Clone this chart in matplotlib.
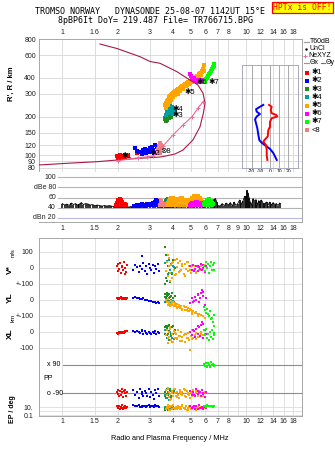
import matplotlib
matplotlib.use('Agg')
import matplotlib.pyplot as plt
import numpy as np
from matplotlib.ticker import NullLocator

plt.rcParams['font.family'] = ['Liberation Sans', 'DejaVu Sans']
plt.rcParams['font.size'] = 5
plt.rcParams['axes.linewidth'] = 0.7

# ---------------- data ----------------
top_ticks = [1, 1.5, 2, 3, 4, 5, 6, 7, 8, 10, 12, 14, 16, 18]
top_labels = ['1', '1.6', '2', '3', '4', '5', '6', '7', '8', '10', '12', '14', '16', '18']
low_ticks = [1, 1.5, 2, 3, 4, 5, 6, 7, 8, 9, 10, 12, 14, 16, 18]
low_top_labels = ['1', '1.5', '2', '3', '4', '5', '6', '7', '8', '9', '10', '12', '14', '16', '18']
low_bot_labels = ['1', '1.5', '2', '3', '4', '5', '6', '7', '8', '', '10', '12', '14', '16', '18']
h_ticks = [80, 90, 100, 120, 150, 200, 300, 400, 600, 800]

# true height profile (MHz, km)
prof_f = [0.747, 1.06, 1.544, 1.983, 2.645, 3.40, 3.62, 4.10, 4.53, 5.13, 5.60, 5.85, 5.97,
          5.82, 5.46, 4.94, 4.20, 3.40, 3.00, 2.645, 1.983, 1.603]
prof_h = [84.1, 86.7, 89.2, 91.9, 94.8, 97.0, 98.5, 102.4, 109.9, 131.5, 165.9, 213, 254.7,
          304.6, 351.5, 384.3, 445.9, 518, 535, 583, 675, 731]
# NeXYZ
ne_f = [2.008, 2.579, 2.886, 3.111, 3.313, 3.527, 3.997, 4.529, 5.07, 5.46, 5.82]
ne_h = [90.8, 95.8, 97.5, 98.8, 106.1, 118.1, 143.8, 171.9, 199.4, 231.7, 260.7]

# echoes R' vs f, by group
e1_f = [1.98, 2.0, 2.02, 2.05, 2.07, 2.1, 2.12, 2.15, 2.18, 2.2, 2.23, 2.26, 2.55]
e1_h = [98, 96, 99, 97, 100, 98, 96, 99, 101, 97, 100, 98, 104]
e2_f = [2.48, 2.55, 2.61, 2.68, 2.74, 2.85, 2.92, 2.99, 3.07, 3.11, 3.19, 3.27, 3.31, 2.96, 2.81, 2.70, 3.02, 3.15]
e2_h = [114, 108, 106, 106, 110, 104, 110, 114, 117, 110, 120, 116, 112, 106, 112, 103, 108, 104]
e3_f = [3.60, 3.63, 3.66, 3.70, 3.73, 3.76, 3.80, 3.84, 3.88, 3.64, 3.72]
e3_h = [190, 194, 188, 196, 192, 199, 195, 202, 198, 185, 187]
e4_f = [3.68, 3.72, 3.76, 3.80, 3.85, 3.90, 3.95, 4.00, 4.06, 3.74, 3.84, 3.94, 4.04, 4.10, 3.70, 3.82]
e4_h = [205, 214, 222, 230, 238, 226, 216, 208, 228, 240, 246, 236, 220, 214, 228, 212]
e5_f = [3.62, 3.66, 3.70, 3.74, 3.78, 3.82, 3.86, 3.90, 3.95, 4.00, 4.05, 4.10, 4.16, 4.22, 4.28, 4.35,
        4.42, 4.50, 4.58, 4.66, 4.75, 4.84, 4.93, 5.02, 5.12, 5.22, 5.32, 5.42, 5.52, 5.62, 5.72, 5.82,
        5.92, 3.68, 3.76, 3.84, 3.92, 4.02, 4.12, 4.24, 4.38, 4.55, 4.72, 4.90, 5.08, 5.28, 5.48, 5.68, 5.88,
        3.72, 3.80, 3.88, 3.96, 4.06, 4.16, 4.28, 4.40, 4.52, 4.64, 4.78, 4.92, 5.06, 5.20, 5.36, 5.52,
        5.66, 5.78]
e5_h = [245, 255, 262, 268, 275, 282, 288, 293, 298, 304, 308, 313, 318, 323, 328, 333,
        338, 344, 350, 356, 362, 368, 375, 380, 385, 392, 402, 413, 425, 436, 452, 472,
        505, 235, 248, 258, 270, 282, 292, 300, 315, 330, 345, 358, 368, 380, 395, 420, 450,
        250, 262, 275, 285, 295, 305, 315, 325, 335, 345, 352, 362, 372, 380, 392, 410,
        428, 445]
e6_f = [4.95, 5.00, 5.08, 5.15, 5.25, 5.35, 5.45, 5.55, 5.65, 5.75, 5.85, 5.95, 5.20, 5.50, 5.80]
e6_h = [425, 412, 398, 390, 385, 380, 378, 382, 376, 372, 370, 368, 395, 370, 385]
e7_f = [5.95, 6.0, 6.05, 6.12, 6.2, 6.28, 6.36, 6.44, 6.52, 6.6, 6.66, 6.7]
e7_h = [372, 380, 390, 400, 412, 425, 438, 452, 466, 482, 498, 512]
e8_f = [3.32, 3.35, 3.38, 3.42, 3.45, 3.36, 3.40]
e8_h = [112, 118, 124, 120, 114, 108, 104]

# tilt inset (deg vs km)
tiltx = [-1.1, 1.8, 0.8, 1.8, 6.5, 7.9, 1.8, 0.0, 0.0, -1.8, -2.5, -6.2, -7.3, -4.3, -3.6, -3.6, -2.9]
tiltx_h = [246, 238, 225, 212, 206, 200, 194, 182, 167, 157, 140, 131, 127, 120, 110, 100, 92]
tilty = [-7.3, -10.9, -15.2, -14.5, -10.9, -14.5, -16.3, -15.2, -13.8, -12.7, -11.6, -9.0, -4.3, 0.0, 3.6, 7.3]
tilty_h = [246, 238, 228, 218, 209, 200, 190, 177, 162, 144, 131, 125, 118, 112, 104, 92]
tilt_ticks = [-20, -10, 0, 10, 20]

# amplitude panel
noise_f = [1.0, 1.03, 1.06, 1.09, 1.12, 1.15, 1.18, 1.21, 1.24, 1.27, 1.30, 1.34, 1.38, 1.42, 1.46, 1.50,
           1.55, 1.60, 1.65, 1.70, 1.75, 1.80, 1.85, 1.90, 1.95,
           2.00, 2.05, 2.10, 2.15, 2.20, 2.25, 2.30, 2.35, 2.40, 2.45, 2.50,
           2.6, 2.7, 2.8, 2.9, 3.0, 3.1, 3.2, 3.3, 3.4, 3.5, 3.6, 3.7, 3.8, 3.9, 4.0,
           4.2, 4.4, 4.6, 4.8, 5.0, 5.2, 5.4, 5.6, 5.8, 6.0, 6.2, 6.4, 6.6,
           6.7, 6.8, 6.9, 7.0, 7.2, 7.4, 7.6, 7.8, 8.0, 8.2, 8.4, 8.6, 8.8, 9.0, 9.2, 9.4, 9.6, 9.8,
           10.0, 10.1, 10.2, 10.35, 10.5, 10.7, 10.9, 11.1, 11.3, 11.5, 11.7, 11.9, 12.1, 12.3, 12.5,
           12.7, 12.9, 13.1, 13.4, 13.7, 14.0, 14.3, 14.6, 14.9, 15.2]
noise_db = [48, 45, 47, 44, 49, 46, 48, 45, 47, 50, 46, 48, 47, 45, 46, 44,
            45, 44, 43, 44, 43, 44, 43, 42, 43,
            42, 42, 43, 42, 42, 42, 41, 42, 42, 43, 44,
            42, 42, 43, 42, 42, 43, 42, 42, 42, 41, 42, 41, 41, 42, 41,
            41, 41, 41, 42, 41, 41, 42, 42, 41, 42, 42, 44, 55,
            56, 58, 52, 44, 43, 48, 44, 49, 45, 50, 43, 51, 44, 48, 55, 47, 53, 62,
            62, 74, 69, 60, 51, 45, 58, 52, 56, 45, 54, 47, 55, 50, 43,
            49, 51, 44, 51, 45, 50, 46, 48, 44, 49]
a1_f = [1.95, 1.98, 2.0, 2.02, 2.05, 2.08, 2.1, 2.12, 2.15, 2.18, 2.2, 2.23]
a1_db = [46, 50, 54, 56, 57, 55, 52, 50, 48, 46, 47, 45]
a2_f = [2.45, 2.5, 2.55, 2.6, 2.65, 2.7, 2.75, 2.8, 2.85, 2.9, 2.95, 3.0, 3.05, 3.1, 3.15, 3.2, 3.25, 3.28]
a2_db = [43, 44, 45, 44, 46, 47, 45, 44, 46, 47, 46, 48, 47, 49, 50, 52, 55, 53]
a3_f = [3.6, 3.65, 3.7, 3.75, 3.8, 3.85, 3.9, 4.3, 4.6, 5.0]
a3_db = [50, 53, 55, 57, 58, 57, 54, 44, 43, 43]
a4_f = [3.65, 3.7, 3.75, 3.8, 3.85, 3.9, 3.95, 4.0, 4.05]
a4_db = [47, 50, 52, 55, 57, 58, 56, 54, 52]
a5_f = [3.7, 3.75, 3.8, 3.85, 3.9, 3.95, 4.0, 4.05, 4.1, 4.15, 4.2, 4.3, 4.4, 4.5, 4.6, 4.7, 4.8,
        4.9, 5.0, 5.1, 5.2, 5.3, 5.4, 5.5, 5.6, 5.7]
a5_db = [45, 50, 54, 57, 59, 60, 59, 58, 57, 55, 56, 58, 60, 59, 56, 54, 55, 53, 56, 60, 62, 58, 61, 63, 60, 55]
a6_f = [4.95, 5.0, 5.1, 5.2, 5.3, 5.4, 5.5, 5.6, 5.7, 5.8]
a6_db = [46, 48, 50, 49, 51, 52, 50, 48, 49, 47]
a7_f = [5.9, 6.0, 6.1, 6.2, 6.3, 6.4, 6.5, 6.6]
a7_db = [48, 52, 55, 54, 57, 53, 50, 47]
a8_f = [3.3, 3.35, 3.4, 3.45, 3.5, 3.55]
a8_db = [52, 55, 54, 53, 50, 48]

# lower panel: per echo V* (m/s), YL (km), XL (km), PP (deg), EP (deg)
l1_f = [1.98, 2.0, 2.02, 2.04, 2.06, 2.08, 2.1, 2.12, 2.14, 2.16, 2.18, 2.2, 2.23, 2.26]
l1_v = [10, -20, 25, -5, 30, -30, 5, 15, -10, 35, -40, 0, -25, 20]
l1_yl = [12, 8, 15, 5, 10, 18, 6, 12, 9, 14, 7, 10, 5, 11]
l1_xl = [-8, -5, -10, -3, -6, 0, -4, 2, -2, -7, 3, 5, 4, 8]
l1_pp = [-80, -95, -70, -110, -75, -100, -85, -65, -112, -78, -90, -68, -105, -82]
l1_ep = [20, 8, 5, 15, 3, 10, 25, 6, 4, 12, 7, 18, 5, 9]

l2_f = [2.43, 2.5, 2.55, 2.6, 2.65, 2.7, 2.75, 2.8, 2.85, 2.9, 2.95, 3.0, 3.05, 3.1, 3.15, 3.2, 3.25, 3.3, 3.35, 2.72]
l2_v = [-10, 20, 5, -25, 15, -5, 30, -20, 10, -35, 25, 0, -15, 20, -30, 10, -5, 25, -20, 78]
l2_yl = [15, 18, 10, 12, 8, 5, 10, 2, 0, -3, -5, -8, -6, -10, -12, -15, -18, -14, -20, 8]
l2_xl = [5, -3, 8, 2, -8, 4, -10, 6, -5, -12, 3, -6, -15, 0, -9, 5, -12, 2, -4, 10]
l2_pp = [-70, -100, -85, -120, -60, -95, -110, -75, -90, -105, -65, -115, -80, -100, -125, -70, -90, -60, -110, -85]
l2_ep = [30, 20, 15, 25, 10, 12, 18, 22, 10, 15, 28, 12, 20, 16, 10, 25, 14, 18, 11, 20]

l3_f = [3.6, 3.62, 3.65, 3.68, 3.7, 3.72, 3.75, 3.78, 3.8, 3.85, 3.9, 3.95, 4.0, 4.1]
l3_v = [130, -100, 80, -60, 40, -80, 10, 60, -30, -90, 20, -40, 50, 0]
l3_yl = [40, 20, 35, 10, 25, 45, 30, 15, 38, 20, 28, 42, 10, 25]
l3_xl = [30, -10, 40, 10, -20, 25, 35, 5, 42, 20, -15, 30, 38, 15]
l3_pp = [-80, -110, -70, -120, -95, -60, -100, -130, -85, -75, -115, -90, -105, -65]
l3_ep = [3, 2, 4, 2.5, 5, 3, 2, 4, 3, 2, 6, 3, 2.5, 4]

l4_f = [3.62, 3.66, 3.7, 3.74, 3.78, 3.82, 3.86, 3.9, 3.95, 4.0, 4.05]
l4_v = [30, -20, 45, -40, 10, 50, -10, 25, -30, 15, 5]
l4_yl = [-10, -5, -15, 0, -12, -8, -20, -3, -10, -6, -14]
l4_xl = [10, -20, -40, -10, -30, -50, 0, -25, -35, -15, -45]
l4_pp = [-100, -70, -120, -85, -95, -130, -60, -110, -80, -90, -75]
l4_ep = [8, 5, 12, 4, 6, 10, 3, 7, 5, 9, 4]

l5_f = [3.65, 3.7, 3.74, 3.78, 3.82, 3.86, 3.9, 3.95, 4.0, 4.05,
        4.1, 4.15, 4.2, 4.26, 4.32, 4.38, 4.44, 4.5, 4.56, 4.62,
        4.68, 4.75, 4.82, 4.9, 4.98, 5.06, 5.15, 5.25, 5.35, 5.45,
        5.55, 5.65, 5.8, 5.95, 3.75, 3.85, 3.95, 4.08, 4.22, 4.35,
        4.5, 4.64, 4.8, 4.95, 5.1, 5.3, 5.5, 5.7]
l5_v = [-20, 40, -50, 10, 60, -30, 20, -60, 35, -10,
        50, -40, 5, 30, -25, 45, -15, 15, -35, 25,
        -5, 40, -20, 10, -30, 20, -10, 15, -25, 5,
        -15, 10, -5, 20, 80, -80, 30, -45, 55, -20,
        25, -50, 35, -10, 15, -30, 5, -15]
l5_yl = [0, -15, 5, -20, -10, -25, -5, -30, -15, -35,
         -20, -40, -25, -45, -30, -50, -35, -55, -40, -60,
         -45, -65, -50, -70, -60, -75, -70, -80, -75, -90,
         -85, -95, -100, -110, -30, -35, -20, -25, -50, -40,
         -60, -45, -70, -55, -85, -80, -100, -95]
l5_xl = [-20, 10, -40, 0, -30, 20, -50, -10, -60, 5,
         -35, -15, -45, 10, -25, -55, 0, -30, -20, -65,
         -10, -40, -5, -50, -25, 15, -35, -20, -45, -10,
         -30, 0, -20, -15, -70, 30, -60, -5, -40, -25,
         -55, -15, -35, -110, -45, -5, -30, -10]
l5_pp = [-70, -100, -60, -115, -85, -95, -125, -75, -105, -65,
         -90, -110, -80, -100, -120, -70, -95, -85, -60, -105,
         -115, -75, -90, -100, -80, -110, -70, -95, -85, -100,
         -75, -90, -105, -80, -55, -130, -90, -65, -115, -80,
         -100, -70, -95, -120, -85, -75, -105, -90]
l5_ep = [3, 10, 5, 20, 2, 8, 15, 4, 25, 6,
         3, 12, 2.5, 18, 5, 9, 3, 30, 7, 4,
         14, 2, 6, 20, 3, 10, 5, 8, 2, 12,
         4, 6, 3, 5, 25, 2, 15, 4, 8, 3,
         20, 5, 2, 10, 3, 6, 4, 8]

l6_f = [4.95, 5.05, 5.15, 5.25, 5.35, 5.45, 5.55, 5.65, 5.75, 5.85, 5.95, 6.05, 5.2, 5.5, 5.8, 5.6]
l6_v = [10, -15, 20, -5, 15, -20, 5, 25, -10, 0, -25, 10, -20, 15, 20, -5]
l6_yl = [-20, 10, -10, 20, 0, 30, -15, 45, 60, 25, -30, 10, -5, 40, 50, 15]
l6_xl = [0, -20, 10, -30, 20, -10, 30, 45, 60, -40, 15, -15, 5, 35, 50, -25]
l6_pp = [-75, -100, -85, -110, -65, -95, -80, -105, -70, -90, -115, -85, -100, -75, -95, -80]
l6_ep = [20, 5, 10, 3, 15, 4, 25, 6, 8, 3, 12, 5, 18, 4, 10, 6]

l7_f = [5.9, 5.98, 6.05, 6.12, 6.2, 6.28, 6.35, 6.42, 6.5, 6.58, 6.65, 6.7]
l7_v = [10, -20, 40, 0, 25, -30, 15, 35, -10, 20, -15, 30]
l7_yl = [-45, -60, -80, -55, -90, -100, -70, -120, -110, -140, -160, -95]
l7_xl = [10, -20, 20, -40, -10, -50, 0, -30, 15, -45, -20, -5]
l7_pp = [95, 85, 100, 80, 105, 90, 75, 110, 88, 98, 82, 92]
l7_ep = [15, 20, 12, 25, 18, 14, 22, 16, 20, 13, 19, 17]

colors = {1: '#ff0000', 2: '#0000ff', 3: '#1e8c1e', 4: '#00a0a0', 5: '#ffa500',
          6: '#ff00ff', 7: '#00ff00', 8: '#f08080'}
legend_names = ['✱1', '✱2', '✱3', '✱4', '✱5', '✱6', '✱7', '<8']

# ---------------- layout helpers ----------------
W, H = 335, 451


def box(x0, y0, x1, y1):
    return [x0 / W, 1 - y1 / H, (x1 - x0) / W, (y1 - y0) / H]


GRID = '#d6d6d6'
SPINE = '#a8a8a8'
PROF = '#a8184c'
NEC = '#ec6a94'
FMIN, FMAX = 0.747, 20.1

fig = plt.figure(figsize=(3.35, 4.51), dpi=100)

# ---------------- (1) R' vs f ----------------
ax = fig.add_axes(box(39, 39, 302, 172))
ax.set_xscale('log')
ax.set_yscale('log')
ax.set_xlim(FMIN, FMAX)
ax.set_ylim(74.2, 800)
ax.xaxis.set_minor_locator(NullLocator())
ax.yaxis.set_minor_locator(NullLocator())
ax.set_xticks(top_ticks, top_labels)
ax.set_yticks(h_ticks, [str(v) for v in h_ticks])
ax.xaxis.tick_top()
ax.tick_params(length=0, pad=2.2, labelsize=5, colors='#202020')
ax.grid(True, color=GRID, lw=0.6)
for s in ax.spines.values():
    s.set_color(SPINE)
ax.spines['bottom'].set_visible(False)

ax.plot(prof_f, prof_h, color=PROF, lw=0.8, zorder=4)
ax.plot(ne_f, ne_h, color=NEC, lw=0.8, marker='+', ms=3.2, mew=0.7, zorder=4)
groups_top = [(e1_f, e1_h, 1), (e2_f, e2_h, 2), (e3_f, e3_h, 3), (e4_f, e4_h, 4),
              (e5_f, e5_h, 5), (e6_f, e6_h, 6), (e7_f, e7_h, 7), (e8_f, e8_h, 8)]
for f, h, k in groups_top:
    ax.scatter(f, h, s=7, marker='s', color=colors[k], linewidths=0, zorder=3)

labs = [(2.1, 97.5, '✱1'), (2.97, 104, '✱2'), (3.95, 226, '✱4'), (3.95, 205, '✱3'),
        (4.64, 310, '✱5'), (5.37, 370, '✱6'), (6.2, 370, '✱7'), (3.42, 108, '⊗8')]
for f, h, t in labs:
    ax.text(f, h, t, fontsize=5.5, ha='left', va='center', color='black', zorder=5)

# tilt inset
ax_t = fig.add_axes(box(241.7, 65, 297.7, 167.7))
ax_t.set_facecolor('none')
ax_t.set_yscale('log')
ax_t.set_ylim(80.1, 502)
ax_t.set_xlim(-30.8, 30.1)
ax_t.yaxis.set_major_locator(NullLocator())
ax_t.yaxis.set_minor_locator(NullLocator())
ax_t.set_xticks(tilt_ticks, [str(v) for v in tilt_ticks])
ax_t.tick_params(length=0, pad=0.8, labelsize=3.6)
ax_t.grid(axis='x', color='#9a9a9a', lw=0.6)
ax_t.set_xlabel('Tilt / deg', fontsize=3.6, labelpad=0)
for s in ax_t.spines.values():
    s.set_color('#a8a8c0')
ax_t.plot(tilty, tilty_h, color='#0000ff', lw=1.4)
ax_t.plot(tiltx, tiltx_h, color='#ff0000', lw=1.4)

# ---------------- (2) amplitude ----------------
ax_a = fig.add_axes(box(39, 172, 302, 222))
ax_a.set_xscale('log')
ax_a.set_xlim(FMIN, FMAX)
ax_a.set_ylim(11.5, 110.5)
ax_a.xaxis.set_major_locator(NullLocator())
ax_a.xaxis.set_minor_locator(NullLocator())
ax_a.yaxis.set_major_locator(NullLocator())
for s in ax_a.spines.values():
    s.set_color(SPINE)
ax_a.spines['left'].set_visible(False)
ax_a.spines['top'].set_visible(False)
xl0 = (58 - 39) / (302 - 39)
for v, lab in zip([100, 80, 60, 40, 20], ['100', 'dBe 80', '60', '40', 'dBn 20']):
    ax_a.axhline(v, xmin=xl0, color='#b8b8e6' if v == 20 else '#b4b4b4', lw=0.8, zorder=0)
    ax_a.text(xl0 - 0.008, v, lab, transform=ax_a.get_yaxis_transform(), ha='right',
              va='center', fontsize=5, color='#202020')

ax_a.vlines(noise_f, 40, noise_db, color='black', lw=1.1, zorder=2)
ax_a.plot(noise_f, noise_db, color='black', lw=0.6, zorder=2)
amp_groups = [(a3_f, a3_db, 3), (a4_f, a4_db, 4), (a5_f, a5_db, 5), (a8_f, a8_db, 8),
              (a2_f, a2_db, 2), (a1_f, a1_db, 1), (a6_f, a6_db, 6), (a7_f, a7_db, 7)]
for f, d, k in amp_groups:
    ax_a.vlines(f, 42, d, color=colors[k], lw=1.3, zorder=3)
    ax_a.scatter(f, d, s=5, marker='s', color=colors[k], linewidths=0, zorder=3)

# ---------------- (3) V*, YL, XL, PP, EP ----------------
ax_l = fig.add_axes(box(39, 238, 302, 416))
ax_l.set_xscale('log')
ax_l.set_xlim(FMIN, FMAX)
ax_l.set_ylim(-9.25, 1.875)
ax_l.xaxis.set_minor_locator(NullLocator())
ax_l.set_xticks(low_ticks, low_bot_labels)

pp_hi, pp_lo = -6.06, -7.83
pp_mid, pp_half = (pp_hi + pp_lo) / 2, (pp_hi - pp_lo) / 2
ep_10 = -8.69


def u_v(v):
    return np.array(v) / 100.0


def u_yl(v):
    return -2 + np.array(v) / 100.0


def u_xl(v):
    return -4 + np.array(v) / 100.0


def u_pp(v):
    return pp_mid + np.array(v) / 90.0 * pp_half


def u_ep(v):
    return ep_10 + 0.25 * np.log10(np.array(v) / 10.0)


yt = [1, 0, -1, -2, -3, -4, -5, float(u_ep(10)), float(u_ep(0.1))]
ax_l.set_yticks(yt, ['100', '0', '+-100', '0', '+-100', '0', '-100', '10.', '0.1'])
ax_l.tick_params(length=0, pad=4, labelsize=5, colors='#202020')
ax_l.tick_params(axis='x', pad=1.5)
ax_l.grid(True, color='#dcdcdc', lw=0.6)
ax_l.axhline(float(u_ep(1)), color='#dcdcdc', lw=0.6)
for s in ax_l.spines.values():
    s.set_color(SPINE)
sec = ax_l.secondary_xaxis('top')
sec.set_xticks(low_ticks, low_top_labels)
sec.xaxis.set_minor_locator(NullLocator())
sec.tick_params(length=0, pad=4, labelsize=5, colors='#202020')
for s in sec.spines.values():
    s.set_visible(False)

xm = (63 - 39) / (302 - 39)
ax_l.axhline(pp_hi, xmin=xm, color='#8c8c8c', lw=0.8)
ax_l.axhline(pp_lo, xmin=xm, color='#8c8c8c', lw=0.8)
ytr = ax_l.get_yaxis_transform()
ax_l.text(0.029, pp_hi, 'x 90', transform=ytr, ha='left', va='center', fontsize=5)
ax_l.text(0.029, pp_lo, 'o -90', transform=ytr, ha='left', va='center', fontsize=5)
ax_l.text(0.016, (268 - 379) / 16.0, 'PP', transform=ytr, ha='left', va='center', fontsize=5)

low_groups = [
    (l1_f, l1_v, l1_yl, l1_xl, l1_pp, l1_ep, 1),
    (l2_f, l2_v, l2_yl, l2_xl, l2_pp, l2_ep, 2),
    (l3_f, l3_v, l3_yl, l3_xl, l3_pp, l3_ep, 3),
    (l4_f, l4_v, l4_yl, l4_xl, l4_pp, l4_ep, 4),
    (l5_f, l5_v, l5_yl, l5_xl, l5_pp, l5_ep, 5),
    (l6_f, l6_v, l6_yl, l6_xl, l6_pp, l6_ep, 6),
    (l7_f, l7_v, l7_yl, l7_xl, l7_pp, l7_ep, 7),
]
for f, v, yl, xl, pp, ep, k in low_groups:
    for uu in (u_v(v), u_yl(yl), u_xl(xl), u_pp(pp), u_ep(ep)):
        ax_l.scatter(f, uu, s=4.5, marker='s', color=colors[k], linewidths=0, zorder=3)

# ---------------- overlay: titles, labels, legend ----------------
ov = fig.add_axes([0, 0, 1, 1])
ov.set_xlim(0, W)
ov.set_ylim(H, 0)
ov.axis('off')
ov.patch.set_alpha(0)

ov.text(150, 12, 'TROMSO NORWAY   DYNASONDE 25-08-07 1142UT 15°E', ha='center', va='center',
        family='DejaVu Sans Mono', fontsize=6)
ov.text(155.5, 20.5, '8pBP6It DoY= 219.487 File= TR766715.BPG', ha='center', va='center',
        family='DejaVu Sans Mono', fontsize=6)
ov.text(302.5, 7.3, 'HPTx is OFF!', ha='center', va='center', color='red',
        family='DejaVu Sans Mono', fontsize=5.8,
        bbox=dict(boxstyle='square,pad=0.15', fc='#ffff00', ec='red', lw=0.9))

ov.text(11.5, 84, "R', R / km", rotation=90, ha='center', va='center', fontsize=5.5, weight='bold')
ov.text(10, 270, 'V*', rotation=90, ha='center', va='center', fontsize=6, weight='bold')
ov.text(13.5, 253, 'm/s', rotation=90, ha='center', va='center', fontsize=4)
ov.text(10, 298, 'YL', rotation=90, ha='center', va='center', fontsize=6, weight='bold')
ov.text(13.5, 318, 'km', rotation=90, ha='center', va='center', fontsize=4.5)
ov.text(10, 334, 'XL', rotation=90, ha='center', va='center', fontsize=6, weight='bold')
ov.text(13, 409, 'EP / deg', rotation=90, ha='center', va='center', fontsize=5, weight='bold')
ov.text(170, 438.7, 'Radio and Plasma Frequency / MHz', ha='center', va='center', fontsize=5.3)

# legend
ov.plot([303.5, 308.5], [41.5, 41.5], color='#a0a0a0', lw=0.9)
ov.text(309.5, 41.5, 'T60dB', va='center', fontsize=5)
ov.plot([306], [48.5], marker='.', ms=1.5, color='black')
ov.text(309.5, 48.5, 'UnCl', va='center', fontsize=5)
ov.plot([305], [55.5], marker='+', ms=3.2, mew=0.7, color=NEC)
ov.text(308.3, 55.5, 'NeXYZ', va='center', fontsize=5)
ov.plot([303.5, 308.5], [62.5, 62.5], color=NEC, lw=0.8)
ov.text(309.3, 62.5, 'Θx', va='center', fontsize=5)
ov.plot([320.5, 325], [62.5, 62.5], color='#6060ff', lw=0.8)
ov.text(325.5, 62.5, 'Θy', va='center', fontsize=5)
for i, name in enumerate(legend_names):
    yy = 72.7 + 8.2 * i
    ov.plot([306.7], [yy], marker='s', ms=2.4, mew=0, color=colors[i + 1])
    ov.text(311.5, yy, name, va='center', fontsize=5.5)

fig.savefig('out.png', dpi=100)
